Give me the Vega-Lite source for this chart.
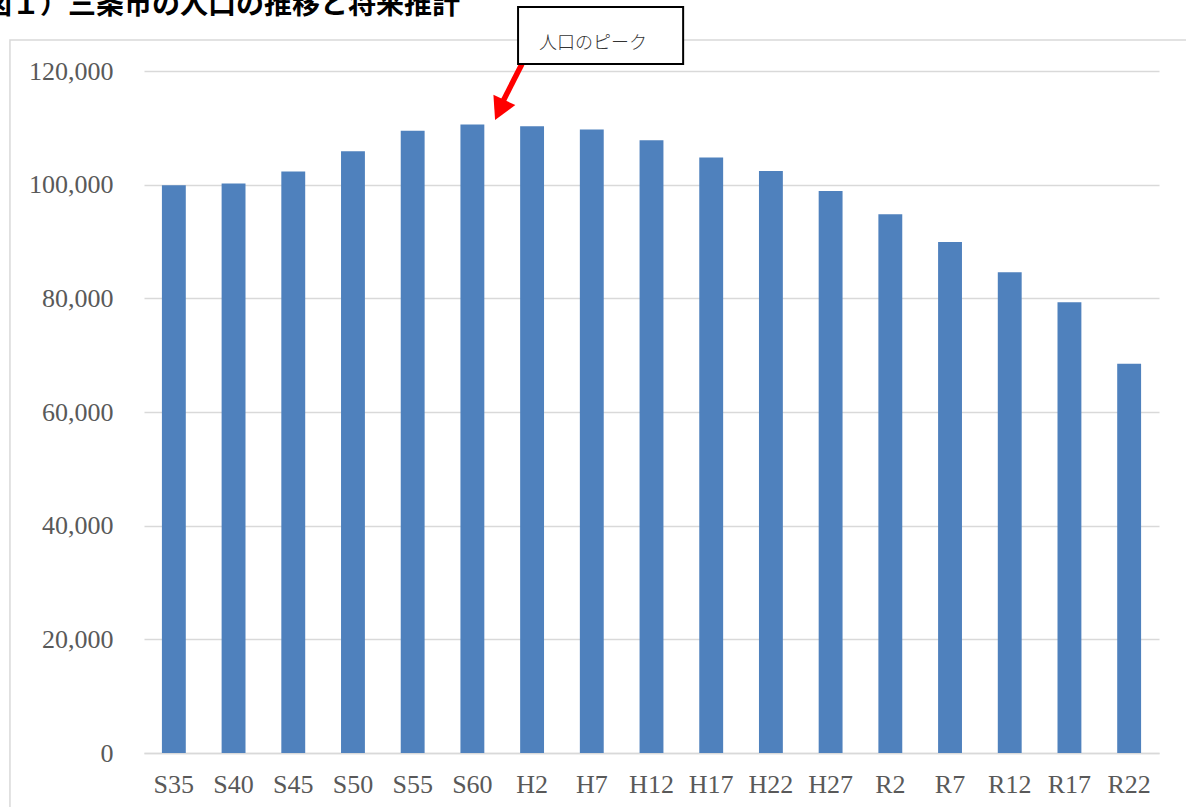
{
  "$schema": "https://vega.github.io/schema/vega-lite/v6.json",
  "autosize": {"type": "none"},
  "width": 1015,
  "height": 682,
  "padding": {"left": 144, "top": 71, "right": 27, "bottom": 54},
  "background": "#ffffff",
  "config": {"view": {"stroke": null}},
  "datasets": {
    "pop": [
      {"year": "S35", "population": 99900},
      {"year": "S40", "population": 100200},
      {"year": "S45", "population": 102300},
      {"year": "S50", "population": 105900},
      {"year": "S55", "population": 109500},
      {"year": "S60", "population": 110600},
      {"year": "H2", "population": 110300},
      {"year": "H7", "population": 109700},
      {"year": "H12", "population": 107800},
      {"year": "H17", "population": 104800},
      {"year": "H22", "population": 102400},
      {"year": "H27", "population": 98900},
      {"year": "R2", "population": 94800},
      {"year": "R7", "population": 89900},
      {"year": "R12", "population": 84600},
      {"year": "R17", "population": 79300},
      {"year": "R22", "population": 68500}
    ],
    "titletext": [{"x": -2.68, "y": 130030, "label": "図１）三条市の人口の推移と将来推計"}],
    "frame": [{"x": -2.245, "x2": 17.8, "y": 125460, "y2": -12000}],
    "box": [{"x": 6.265, "x2": 9.03, "y": 131270, "y2": 121240, "label": "人口のピーク", "tx": 7.52, "ty": 124760}],
    "shaft": [{"x": 6.33, "y": 121240, "seg": 0}, {"x": 5.99, "y": 114200, "seg": 1}],
    "head": [{"x": 5.88, "y": 111400}]
  },
  "layer": [
    {
      "data": {"name": "pop"},
      "mark": {"type": "bar", "color": "#4F81BD"},
      "encoding": {
        "x": {
          "field": "year",
          "type": "nominal",
          "sort": null,
          "scale": {"paddingInner": 0.6, "paddingOuter": 0.3},
          "axis": {
            "title": null,
            "labelAngle": 0,
            "labelFont": "Liberation Serif",
            "labelFontSize": 26,
            "labelColor": "#595959",
            "labelPadding": 18,
            "ticks": false,
            "domainColor": "#D9D9D9",
            "domainWidth": 1.5,
            "grid": false
          }
        },
        "y": {
          "field": "population",
          "type": "quantitative",
          "scale": {"domain": [0, 120000]},
          "axis": {
            "title": null,
            "values": [0, 20000, 40000, 60000, 80000, 100000, 120000],
            "format": ",d",
            "labelFont": "Liberation Serif",
            "labelFontSize": 26,
            "labelColor": "#595959",
            "labelPadding": 31,
            "ticks": false,
            "domain": false,
            "gridColor": "#D9D9D9",
            "gridWidth": 1.5
          }
        }
      }
    },
    {
      "layer": [
        {
          "data": {"name": "frame"},
          "mark": {"type": "rect", "fill": null, "stroke": "#D9D9D9", "strokeWidth": 1.5, "clip": false},
          "encoding": {
            "x": {"field": "x", "type": "quantitative", "scale": {"domain": [0, 17]}, "axis": null},
            "x2": {"field": "x2"},
            "y": {"field": "y", "type": "quantitative", "scale": {"domain": [0, 120000]}},
            "y2": {"field": "y2"}
          }
        },
        {
          "data": {"name": "titletext"},
          "mark": {"type": "text", "font": "Noto Sans CJK JP", "fontWeight": "bold", "fontSize": 28, "color": "#000000", "align": "left", "baseline": "alphabetic"},
          "encoding": {
            "x": {"field": "x", "type": "quantitative", "scale": {"domain": [0, 17]}, "axis": null},
            "y": {"field": "y", "type": "quantitative", "scale": {"domain": [0, 120000]}},
            "text": {"field": "label"}
          }
        },
        {
          "data": {"name": "shaft"},
          "mark": {"type": "line", "color": "#FF0000", "strokeWidth": 5.5, "strokeCap": "butt"},
          "encoding": {
            "x": {"field": "x", "type": "quantitative", "scale": {"domain": [0, 17]}, "axis": null},
            "y": {"field": "y", "type": "quantitative", "scale": {"domain": [0, 120000]}},
            "order": {"field": "seg"}
          }
        },
        {
          "data": {"name": "head"},
          "mark": {"type": "point", "shape": "M0,0 L-0.55,-1 L0.55,-1 Z", "filled": true, "color": "#FF0000", "opacity": 1, "size": 1936, "angle": 25, "strokeWidth": 0},
          "encoding": {
            "x": {"field": "x", "type": "quantitative", "scale": {"domain": [0, 17]}, "axis": null},
            "y": {"field": "y", "type": "quantitative", "scale": {"domain": [0, 120000]}}
          }
        },
        {
          "data": {"name": "box"},
          "mark": {"type": "rect", "fill": "#FFFFFF", "stroke": "#000000", "strokeWidth": 2},
          "encoding": {
            "x": {"field": "x", "type": "quantitative", "scale": {"domain": [0, 17]}, "axis": null},
            "x2": {"field": "x2"},
            "y": {"field": "y", "type": "quantitative", "scale": {"domain": [0, 120000]}},
            "y2": {"field": "y2"}
          }
        },
        {
          "data": {"name": "box"},
          "mark": {"type": "text", "font": "Noto Sans CJK JP", "fontWeight": 300, "fontSize": 18, "color": "#333333", "align": "center", "baseline": "middle"},
          "encoding": {
            "x": {"field": "tx", "type": "quantitative", "scale": {"domain": [0, 17]}, "axis": null},
            "y": {"field": "ty", "type": "quantitative", "scale": {"domain": [0, 120000]}},
            "text": {"field": "label"}
          }
        }
      ]
    }
  ],
  "resolve": {"scale": {"x": "independent"}, "axis": {"x": "independent"}}
}
